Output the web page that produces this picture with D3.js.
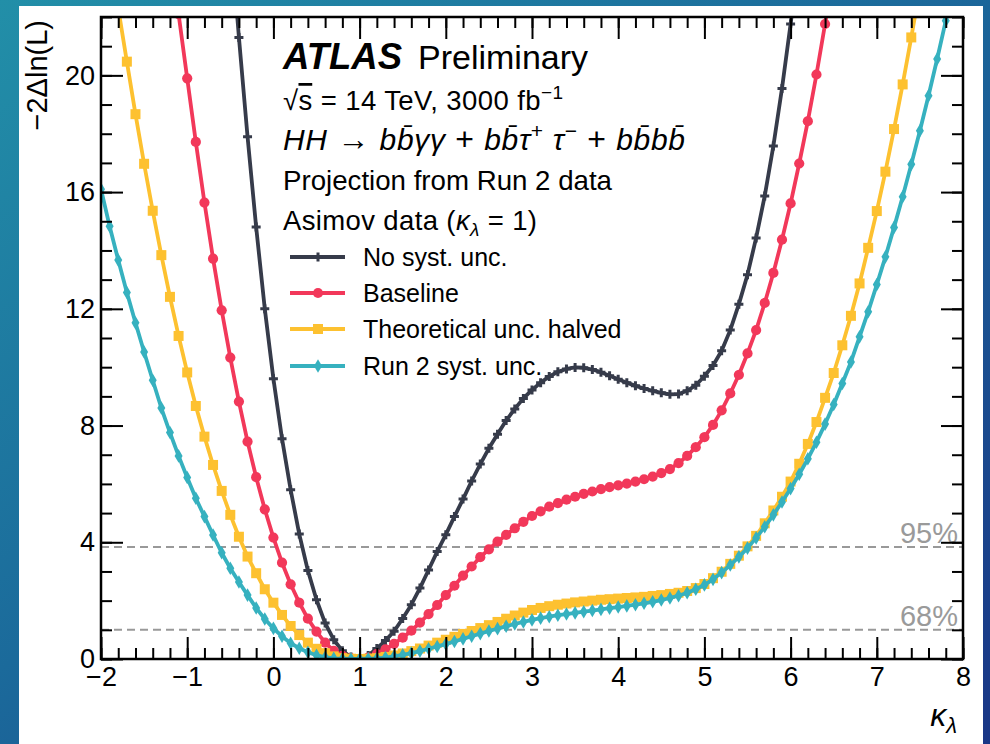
<!DOCTYPE html>
<html><head><meta charset="utf-8">
<script src="https://cdn.jsdelivr.net/npm/d3@7"></script>
<style>
html,body{margin:0;padding:0;width:990px;height:744px;overflow:hidden;background:#1b5a94;}
svg{display:block;}
text{font-family:"Liberation Sans",Arial,Helvetica,sans-serif;}
</style></head><body>
<svg id="c" width="990" height="744"></svg>
<script>
// ---------------- data ----------------
const kappa = [-2.0,-1.9,-1.8,-1.7,-1.6,-1.5,-1.4,-1.3,-1.2,-1.1,-1.0,-0.9,-0.8,-0.7,-0.6,-0.5,-0.4,-0.3,-0.2,-0.1,
  0.0,0.1,0.2,0.3,0.4,0.5,0.6,0.7,0.8,0.9,1.0,1.1,1.2,1.3,1.4,1.5,1.6,1.7,1.8,1.9,
  2.0,2.1,2.2,2.3,2.4,2.5,2.6,2.7,2.8,2.9,3.0,3.1,3.2,3.3,3.4,3.5,3.6,3.7,3.8,3.9,
  4.0,4.1,4.2,4.3,4.4,4.5,4.6,4.7,4.8,4.9,5.0,5.1,5.2,5.3,5.4,5.5,5.6,5.7,5.8,5.9,
  6.0,6.1,6.2,6.3,6.4,6.5,6.6,6.7,6.8,6.9,7.0,7.1,7.2,7.3,7.4,7.5,7.6,7.7,7.8,7.9,8.0];

const noSyst = [null,null,null,null,null,null,null,null,null,null,null,null,null,null,null,
  25.0,21.3,17.9,14.8,12.0,
  9.6,7.55,5.8,4.28,3.03,2.03,1.23,0.66,0.28,0.07,0.0,0.12,0.36,0.63,0.95,1.39,1.86,2.43,3.05,3.68,
  4.26,4.88,5.48,6.1,6.68,7.22,7.7,8.17,8.57,8.93,9.22,9.47,9.68,9.84,9.94,9.99,9.98,9.92,9.83,9.71,
  9.59,9.47,9.36,9.27,9.19,9.12,9.07,9.08,9.19,9.38,9.69,10.06,10.56,11.27,12.16,13.17,14.43,15.87,17.58,19.55,
  21.76,24.1,null,null,null,null,null,null,null,null,null,null,null,null,null,null,null,null,null];

const baseline = [null,null,null,null,null,null,null,null,
  24.4,22.1,19.9,17.72,15.64,13.72,11.95,10.33,8.82,7.45,6.23,5.13,
  4.16,3.3,2.56,1.93,1.38,0.94,0.56,0.28,0.11,0.02,0.0,0.05,0.17,0.33,0.52,0.73,0.97,1.25,1.54,1.85,
  2.19,2.51,2.86,3.17,3.49,3.76,4.02,4.25,4.48,4.7,4.9,5.06,5.22,5.34,5.46,5.56,5.66,5.74,5.82,5.89,
  5.95,6.01,6.08,6.16,6.25,6.37,6.51,6.71,6.96,7.26,7.6,8.02,8.52,9.1,9.74,10.47,11.27,12.2,13.23,14.37,
  15.61,16.98,18.43,20.03,21.76,23.6,null,null,null,null,null,null,null,null,null,null,null,null,null,null,null];

const theoHalved = [26.1,24.2,22.3,20.47,18.67,16.97,15.36,13.84,12.41,11.07,9.82,8.67,7.62,6.65,5.76,4.94,4.19,3.51,2.94,2.39,
  1.93,1.51,1.13,0.82,0.56,0.35,0.2,0.09,0.03,0.01,0.0,0.01,0.03,0.07,0.12,0.19,0.27,0.36,0.46,0.56,
  0.66,0.76,0.86,0.96,1.06,1.16,1.27,1.38,1.49,1.59,1.68,1.75,1.81,1.86,1.9,1.94,1.97,2.0,2.03,2.05,
  2.07,2.09,2.11,2.13,2.16,2.19,2.23,2.27,2.33,2.43,2.57,2.77,2.99,3.26,3.54,3.86,4.22,4.65,5.09,5.56,
  6.08,6.69,7.37,8.12,8.95,9.8,10.75,11.76,12.87,14.09,15.35,16.7,18.16,19.69,21.3,23.0,null,null,null,null,null];

const run2Syst = [16.1,14.83,13.67,12.56,11.52,10.52,9.55,8.6,7.76,6.96,6.22,5.51,4.88,4.25,3.64,3.11,2.64,2.19,1.75,1.37,
  1.05,0.78,0.54,0.37,0.23,0.13,0.06,0.02,0.01,0.0,0.0,0.01,0.02,0.05,0.09,0.14,0.2,0.27,0.35,0.43,
  0.51,0.6,0.69,0.78,0.87,0.96,1.04,1.12,1.2,1.27,1.34,1.4,1.45,1.5,1.54,1.58,1.62,1.66,1.7,1.74,
  1.78,1.82,1.86,1.91,1.96,2.02,2.09,2.17,2.27,2.39,2.54,2.73,2.96,3.22,3.5,3.8,4.15,4.53,4.94,5.38,
  5.84,6.33,6.86,7.43,8.05,8.72,9.44,10.18,11.04,11.9,12.83,13.78,14.79,15.84,16.95,18.1,19.3,20.56,21.87,23.2,24.5];

const seriesNames = ["No syst. unc.","Baseline","Theoretical unc. halved","Run 2 syst. unc."];
const seriesColors = ["#363b4a","#f2385a","#fdc130","#36b1bf"];
const seriesMarkers = ["plus","circle","square","diamond"];
const seriesValues = [noSyst, baseline, theoHalved, run2Syst];

const xTicks = [-2,-1,0,1,2,3,4,5,6,7,8];
const yTicks = [0,4,8,12,16,20];
const clLevels = [3.84, 1.0];
const clLabels = ["95%","68%"];

// ---------------- layout ----------------
const W = 990, H = 744;
const L = 101, R = 963, T = 17, B = 659;
const svg = d3.select("#c");

const defs = svg.append("defs");
const grad = defs.append("linearGradient").attr("id","bg").attr("x1","0").attr("y1","0").attr("x2","1").attr("y2","1");
grad.append("stop").attr("offset","0%").attr("stop-color","#228fa8");
grad.append("stop").attr("offset","45%").attr("stop-color","#1b6a9b");
grad.append("stop").attr("offset","100%").attr("stop-color","#1a3686");
svg.append("rect").attr("width",W).attr("height",H).attr("fill","url(#bg)");
svg.append("rect").attr("x",19).attr("y",6).attr("width",964).attr("height",H-6).attr("fill","#fff");

defs.append("clipPath").attr("id","clip").append("rect")
  .attr("x",L).attr("y",T).attr("width",R-L).attr("height",B-T);

const x = d3.scaleLinear().domain([-2,8]).range([L,R]);
const y = d3.scaleLinear().domain([0,22]).range([B,T]);

// confidence level lines
clLevels.forEach((lv,i)=>{
  svg.append("line").attr("x1",L).attr("x2",R).attr("y1",y(lv)).attr("y2",y(lv))
    .attr("stroke","#999").attr("stroke-width",2).attr("stroke-dasharray","8,5");
  svg.append("text").attr("x",R-5).attr("y",y(lv)-4).attr("text-anchor","end")
    .attr("font-size",29).attr("fill","#9a9a9a").text(clLabels[i]);
});

// markers
function markerPath(type){
  if(type==="circle") return d3.symbol(d3.symbolCircle, 82)();
  if(type==="square") return d3.symbol(d3.symbolSquare, 100)();
  if(type==="diamond") return "M0,-6.8L4,0L0,6.8L-4,0Z";
  return "M-4.5,0L4.5,0M0,-4.5L0,4.5";
}
function drawMarker(sel, type, color){
  const p = sel.append("path").attr("d", markerPath(type));
  if(type==="plus") p.attr("fill","none").attr("stroke",color).attr("stroke-width",3);
  else p.attr("fill",color).attr("stroke","none");
  return p;
}

const plotG = svg.append("g").attr("clip-path","url(#clip)");
const line = d3.line().defined(d=>d.v!==null).x(d=>x(d.k)).y(d=>y(d.v));
seriesValues.forEach((vals,si)=>{
  const pts = kappa.map((k,i)=>({k:k, v:vals[i]}));
  const g = plotG.append("g");
  g.append("path").datum(pts).attr("d",line).attr("fill","none")
    .attr("stroke",seriesColors[si]).attr("stroke-width",3.8).attr("stroke-linejoin","round");
  pts.filter(d=>d.v!==null).forEach(d=>{
    const mg = g.append("g").attr("transform",`translate(${x(d.k)},${y(d.v)})`);
    drawMarker(mg, seriesMarkers[si], seriesColors[si]);
  });
});

// axes
const ax = svg.append("g");
function styleAxis(g){
  g.select(".domain").remove();
  g.selectAll(".tick line").attr("stroke","#000").attr("stroke-width",2);
  g.selectAll("text").attr("fill","#000").attr("font-family",'"Liberation Sans",Arial,sans-serif').attr("font-size",27);
}
const minorX = d3.range(-20,81,2).map(v=>v/10);
const minorY = d3.range(0,23,1);
// bottom
ax.append("g").attr("transform",`translate(0,${B})`).call(d3.axisBottom(x).tickValues(minorX).tickSize(-11).tickFormat("")).call(styleAxis);
ax.append("g").attr("transform",`translate(0,${B})`).call(d3.axisBottom(x).tickValues(xTicks).tickSize(-22).tickPadding(8).tickFormat(d3.format("d"))).call(styleAxis);
// top
ax.append("g").attr("transform",`translate(0,${T})`).call(d3.axisTop(x).tickValues(minorX).tickSize(-11).tickFormat("")).call(styleAxis);
ax.append("g").attr("transform",`translate(0,${T})`).call(d3.axisTop(x).tickValues(xTicks).tickSize(-22).tickFormat("")).call(styleAxis);
// left
ax.append("g").attr("transform",`translate(${L},0)`).call(d3.axisLeft(y).tickValues(minorY).tickSize(-11).tickFormat("")).call(styleAxis);
ax.append("g").attr("transform",`translate(${L},0)`).call(d3.axisLeft(y).tickValues(yTicks).tickSize(-22).tickPadding(6).tickFormat(d3.format("d"))).call(styleAxis);
// right
ax.append("g").attr("transform",`translate(${R},0)`).call(d3.axisRight(y).tickValues(minorY).tickSize(-11).tickFormat("")).call(styleAxis);
ax.append("g").attr("transform",`translate(${R},0)`).call(d3.axisRight(y).tickValues(yTicks).tickSize(-22).tickFormat("")).call(styleAxis);
// frame
svg.append("rect").attr("x",L).attr("y",T).attr("width",R-L).attr("height",B-T)
  .attr("fill","none").attr("stroke","#000").attr("stroke-width",2.5);

// axis titles
svg.append("text").attr("transform",`translate(47,${T+3}) rotate(-90)`).attr("text-anchor","end")
  .attr("font-size",29).text("\u22122\u0394ln(L)");
const xt = svg.append("text").attr("x",957).attr("y",726).attr("text-anchor","end").attr("font-size",32);
xt.append("tspan").attr("font-style","italic").text("\u03ba");
xt.append("tspan").attr("font-style","italic").attr("font-size",22).attr("dy",7).text("\u03bb");

// labels
const tx = 283;
svg.append("text").attr("x",tx).attr("y",69).attr("font-size",36).attr("font-weight","bold").attr("font-style","italic")
  .attr("textLength",119).attr("lengthAdjust","spacingAndGlyphs").text("ATLAS");
svg.append("text").attr("x",418).attr("y",69).attr("font-size",34).text("Preliminary");

const t2 = svg.append("text").attr("x",tx).attr("y",110).attr("font-size",27.5)
  .attr("textLength",280).attr("lengthAdjust","spacing");
t2.append("tspan").text("\u221a");
t2.append("tspan").attr("style","text-decoration:overline").text("s");
t2.append("tspan").text(" = 14 TeV, 3000 fb");
t2.append("tspan").attr("font-size",19).attr("dy",-11).text("\u22121");

// decay line
const t3 = svg.append("text").attr("x",tx).attr("y",150).attr("font-size",30)
  .attr("textLength",402).attr("lengthAdjust","spacing");
t3.append("tspan").attr("font-style","italic").text("HH");
t3.append("tspan").attr("font-size",32).text(" \u2192 ");
t3.append("tspan").attr("font-style","italic").text("bb\u0304\u03b3\u03b3");
t3.append("tspan").attr("font-size",32).text(" + ");
t3.append("tspan").attr("font-style","italic").text("bb\u0304\u03c4");
t3.append("tspan").attr("font-size",21).attr("dy",-12).text("+");
t3.append("tspan").attr("font-style","italic").attr("dy",12).text(" \u03c4");
t3.append("tspan").attr("font-size",21).attr("dy",-12).text("\u2212");
t3.append("tspan").attr("font-size",32).attr("dy",12).text("  + ");
t3.append("tspan").attr("font-style","italic").text("bb\u0304bb\u0304");

svg.append("text").attr("x",tx).attr("y",190).attr("font-size",27.5)
  .attr("textLength",329).attr("lengthAdjust","spacingAndGlyphs").text("Projection from Run 2 data");
const t5 = svg.append("text").attr("x",tx).attr("y",230).attr("font-size",27.5)
  .attr("textLength",254).attr("lengthAdjust","spacing");
t5.append("tspan").text("Asimov data (");
t5.append("tspan").attr("font-style","italic").text("\u03ba");
t5.append("tspan").attr("font-style","italic").attr("font-size",19).attr("dy",6).text("\u03bb");
t5.append("tspan").attr("dy",-6).text(" = 1)");

// legend
const legY = [257, 293, 329, 366];
seriesNames.forEach((name,i)=>{
  const g = svg.append("g").attr("transform",`translate(0,${legY[i]})`);
  g.append("line").attr("x1",290).attr("x2",345).attr("y1",0).attr("y2",0)
    .attr("stroke",seriesColors[i]).attr("stroke-width",3.8);
  const mg = g.append("g").attr("transform","translate(318,0)");
  drawMarker(mg, seriesMarkers[i], seriesColors[i]);
  g.append("text").attr("x",363).attr("y",9).attr("font-size",25).text(name);
});
</script>
</body></html>
